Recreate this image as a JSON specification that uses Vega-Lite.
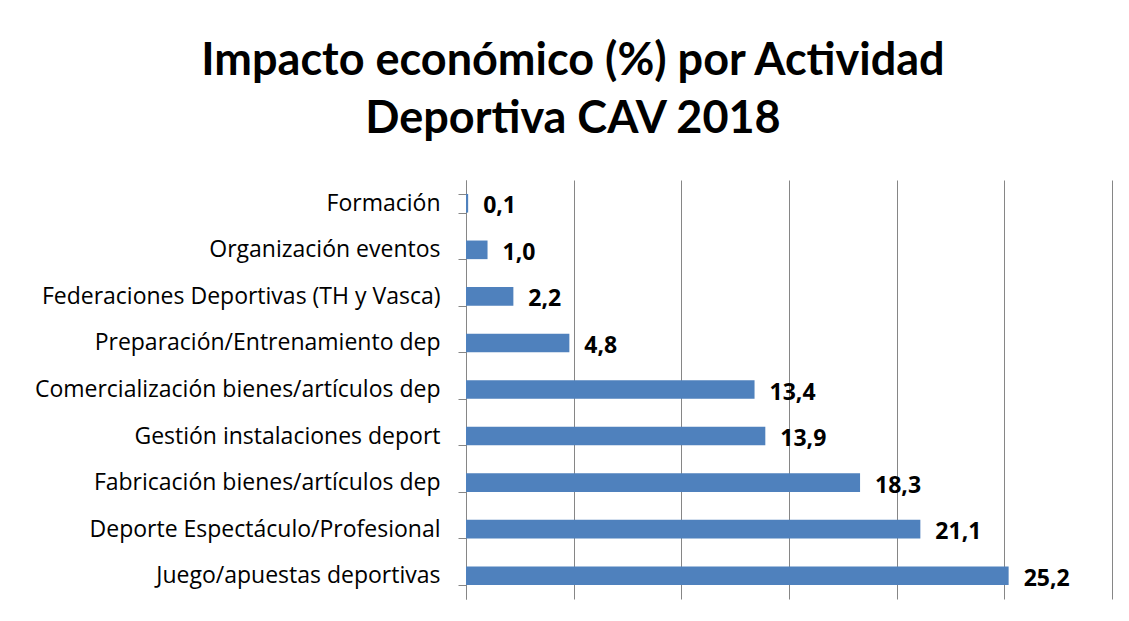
{
  "$schema": "https://vega.github.io/schema/vega-lite/v6.json",
  "autosize": {"type": "none"},
  "width": 646,
  "height": 419,
  "padding": {"left": 466, "top": 180, "right": 17, "bottom": 22},
  "background": "white",
  "title": {
    "text": ["Impacto económico (%) por Actividad", "Deportiva CAV 2018"],
    "anchor": "middle",
    "frame": "group",
    "dx": -216,
    "offset": 27,
    "font": "Lato",
    "fontSize": 45,
    "fontWeight": "bold",
    "lineHeight": 58,
    "color": "black"
  },
  "data": {
    "values": [
      {"actividad": "Formación", "valor": 0.1},
      {"actividad": "Organización eventos", "valor": 1.0},
      {"actividad": "Federaciones Deportivas (TH y Vasca)", "valor": 2.2},
      {"actividad": "Preparación/Entrenamiento dep\u00a0", "valor": 4.8},
      {"actividad": "Comercialización bienes/artículos dep\u00a0", "valor": 13.4},
      {"actividad": "Gestión instalaciones deport\u00a0", "valor": 13.9},
      {"actividad": "Fabricación bienes/artículos dep\u00a0", "valor": 18.3},
      {"actividad": "Deporte Espectáculo/Profesional", "valor": 21.1},
      {"actividad": "Juego/apuestas deportivas", "valor": 25.2}
    ]
  },
  "encoding": {
    "y": {
      "field": "actividad",
      "type": "nominal",
      "sort": {"field": "valor", "order": "ascending"},
      "scale": {"paddingInner": 0.6, "paddingOuter": 0.3},
      "axis": {
        "title": null,
        "tickBand": "extent",
        "labelFont": "Open Sans",
        "labelFontSize": 23,
        "labelColor": "black",
        "labelPadding": 18,
        "labelLimit": 600,
        "tickSize": 8,
        "tickColor": "#868686",
        "domainColor": "#868686",
        "grid": false
      }
    },
    "x": {
      "field": "valor",
      "type": "quantitative",
      "scale": {"domain": [0, 30], "nice": false},
      "axis": {
        "title": null,
        "values": [0, 5, 10, 15, 20, 25, 30],
        "labels": false,
        "ticks": false,
        "domain": false,
        "grid": true,
        "gridColor": "#868686",
        "gridWidth": 1,
        "gridOpacity": 1
      }
    }
  },
  "layer": [
    {"mark": {"type": "bar", "color": "#4F81BD"}},
    {
      "mark": {"type": "text", "align": "left", "baseline": "middle", "dx": 15, "dy": 3, "font": "Open Sans", "fontSize": 23, "fontWeight": "bold", "color": "black"},
      "encoding": {"text": {"field": "valor", "type": "quantitative", "format": ".1f"}}
    }
  ],
  "config": {
    "view": {"stroke": null},
    "locale": {"number": {"decimal": ",", "thousands": ".", "grouping": [3], "currency": ["", " €"]}}
  }
}
